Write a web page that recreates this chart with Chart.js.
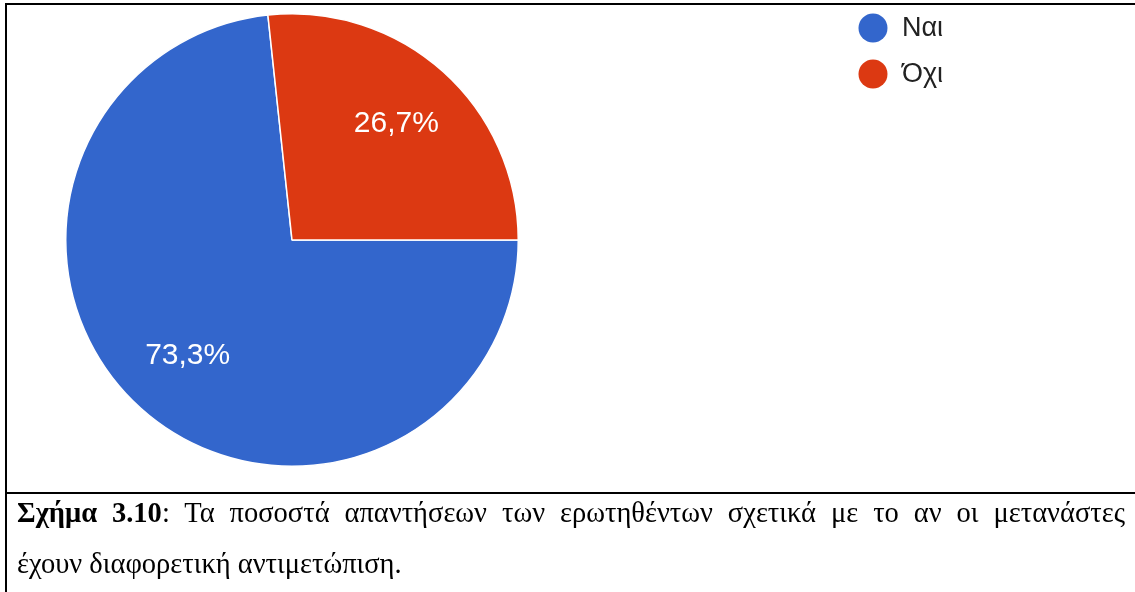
<!DOCTYPE html>
<html>
<head>
<meta charset="utf-8">
<script src="https://cdn.jsdelivr.net/npm/chart.js@4.4.1/dist/chart.umd.min.js"></script>
<style>
  html, body { margin: 0; padding: 0; background: #fff; }
  body { width: 1135px; height: 592px; position: relative; overflow: hidden; }
  #frame { position: absolute; left: 5px; top: 3px; width: 1140px; height: 600px;
           border-left: 2px solid #000; border-top: 2px solid #000; }
  #sep { position: absolute; left: 5px; top: 492px; width: 1140px; height: 2px; background: #000; }
  #box { position: absolute; left: 0; top: 0; width: 1135px; height: 490px; }
  #cap { position: absolute; left: 17px; top: 487px; width: 1108px;
         font-family: "Liberation Serif", "Times New Roman", serif; font-size: 28.5px;
         line-height: 51px; color: #000; }
  #cap .l1 { text-align: justify; text-align-last: justify; white-space: nowrap; }
</style>
</head>
<body>
<div id="frame"></div>
<div id="sep"></div>
<div id="box"><canvas id="pieChart"></canvas></div>
<div id="cap">
  <div class="l1"><b>Σχήμα 3.10</b>: Τα ποσοστά απαντήσεων των ερωτηθέντων σχετικά με το αν οι μετανάστες</div>
  <div>έχουν διαφορετική αντιμετώπιση.</div>
</div>
<script>
// Data for the chart
const answers = ['Ναι', 'Όχι'];        // legend labels
const percentages = [73.3, 26.7];      // slice values (%)
const sliceColors = ['#3366cc', '#dc3912'];

// percentage text inside each slice
const sliceLabels = {
  id: 'sliceLabels',
  afterDatasetsDraw(chart) {
    const ctx = chart.ctx;
    const meta = chart.getDatasetMeta(0);
    ctx.save();
    ctx.font = '30px "Liberation Sans", Arial, sans-serif';
    ctx.fillStyle = '#fff';
    ctx.textAlign = 'center';
    ctx.textBaseline = 'middle';
    meta.data.forEach((arc, i) => {
      const p = arc.getProps(['x', 'y', 'startAngle', 'endAngle', 'outerRadius'], true);
      const mid = (p.startAngle + p.endAngle) / 2;
      const r = p.outerRadius * 0.69;
      const txt = chart.data.datasets[0].data[i].toFixed(1).replace('.', ',') + '%';
      ctx.fillText(txt, p.x + Math.cos(mid) * r, p.y + Math.sin(mid) * r);
    });
    ctx.restore();
  }
};

// legend top right, circles + text
const dotLegend = {
  id: 'dotLegend',
  afterDraw(chart) {
    const ctx = chart.ctx;
    const ds = chart.data.datasets[0];
    ctx.save();
    ctx.font = '27px "Liberation Sans", Arial, sans-serif';
    ctx.textBaseline = 'middle';
    chart.data.labels.forEach((lab, i) => {
      const y = 28 + i * 46;
      ctx.beginPath();
      ctx.arc(873, y, 14.5, 0, Math.PI * 2);
      ctx.fillStyle = ds.backgroundColor[i];
      ctx.fill();
      ctx.fillStyle = '#222';
      ctx.fillText(lab, 902, y + 1);
    });
    ctx.restore();
  }
};

const ctx = document.getElementById('pieChart').getContext('2d');
const pieChart = new Chart(ctx, {
  type: 'pie',
  data: {
    labels: answers,
    datasets: [{
      data: percentages,
      backgroundColor: sliceColors,
      borderColor: '#fff',
      borderWidth: 1.5
    }]
  },
  options: {
    responsive: true,
    maintainAspectRatio: false,
    animation: false,
    rotation: 90,
    layout: { padding: { left: 65, top: 13, right: 616, bottom: 23 } },
    plugins: {
      legend: { display: false },
      tooltip: { enabled: false }
    }
  },
  plugins: [sliceLabels, dotLegend]
});
</script>
</body>
</html>
